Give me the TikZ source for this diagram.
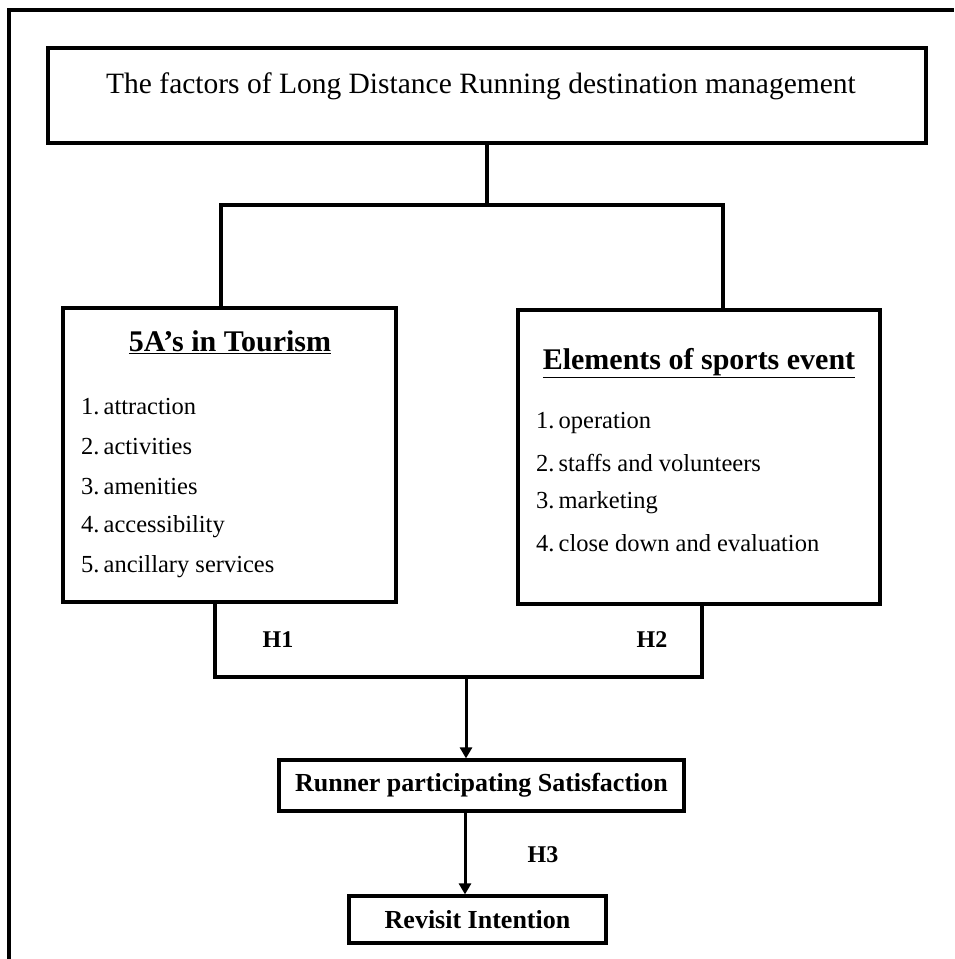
\documentclass[tikz,border=0pt]{standalone}
\usepackage{fontspec}
\setmainfont{Liberation Serif}
\usetikzlibrary{arrows.meta}
\tikzset{
  box/.style={draw, line width=3.2pt, inner sep=0pt},
  conn/.style={line width=3.2pt},
  arr/.style={line width=3pt, -{Triangle[width=12pt,length=11pt]}},
  item/.style={anchor=west, inner sep=0pt, font=\fontsize{24.5}{28}\selectfont},
  hlab/.style={inner sep=0pt, font=\fontsize{24}{28}\selectfont\bfseries},
}
\begin{document}
\begin{tikzpicture}[x=1pt,y=-1pt]
\useasboundingbox (0,0) rectangle (954,959);
% outer frame (open at right and bottom)
\draw[line width=3.2pt] (9,959) -- (9,10) -- (954,10);

% title box
\node[box, line width=3.8pt, minimum width=878pt, minimum height=95pt] (title) at (487,95.5) {};
\node[inner sep=0pt, font=\fontsize{29.5}{34}\selectfont] (titletxt) at (481,86) {The factors of Long Distance Running destination management};

% left box
\node[box, minimum width=333pt, minimum height=294pt] (lbox) at (229.5,455) {};
\node[inner sep=0pt, font=\fontsize{30}{34}\selectfont\bfseries] (lhead) at (230,342) {\underline{5A's in Tourism}};
\node[item] (l1) at (81,407) {1.\,attraction};
\node[item] (l2) at (81,447) {2.\,activities};
\node[item] (l3) at (81,487) {3.\,amenities};
\node[item] (l4) at (81,527) {4.\,accessibility};
\node[item] (l5) at (81,567) {5.\,ancillary services};

% right box
\node[box, minimum width=362pt, minimum height=294pt] (rbox) at (699,457) {};
\node[inner sep=0pt, font=\fontsize{30}{34}\selectfont\bfseries] (rhead) at (699,363) {\underline{Elements of sports event}};
\node[item] (r1) at (536,423) {1.\,operation};
\node[item] (r2) at (536,463) {2.\,staffs and volunteers};
\node[item] (r3) at (536,503) {3.\,marketing};
\node[item] (r4) at (536,543) {4.\,close down and evaluation};

% satisfaction and revisit boxes
\node[box, minimum width=405pt, minimum height=51pt, font=\fontsize{26}{30}\selectfont\bfseries] (sat) at (481.5,785.5) {Runner participating Satisfaction};
\node[box, minimum width=257pt, minimum height=47pt, font=\fontsize{26}{30}\selectfont\bfseries] (rev) at (477.5,919.5) {Revisit Intention};

% hypothesis labels
\node[hlab] (h1) at (278,640) {H1};
\node[hlab] (h2) at (652,640) {H2};
\node[hlab] (h3) at (543,855) {H3};

% connectors from title
\coordinate (jm) at (487,205);
\coordinate (jl) at (221,205);
\coordinate (jr) at (723,205);
\draw[conn] (title.south) -- (jm);
\draw[conn] (jl |- lbox.north) -- (jl) -- (jr) -- (jr |- rbox.north);

% bracket below boxes
\coordinate (bl) at (215,677);
\coordinate (br) at (702,677);
\draw[conn] (bl |- lbox.south) -- (bl) -- (br) -- (br |- rbox.south);

% arrows
\coordinate (a1) at (466,677);
\draw[arr] (a1) -- (a1 |- sat.north);
\coordinate (a2) at (465,811);
\draw[arr] (a2 |- sat.south) -- (a2 |- rev.north);
\end{tikzpicture}
\end{document}
